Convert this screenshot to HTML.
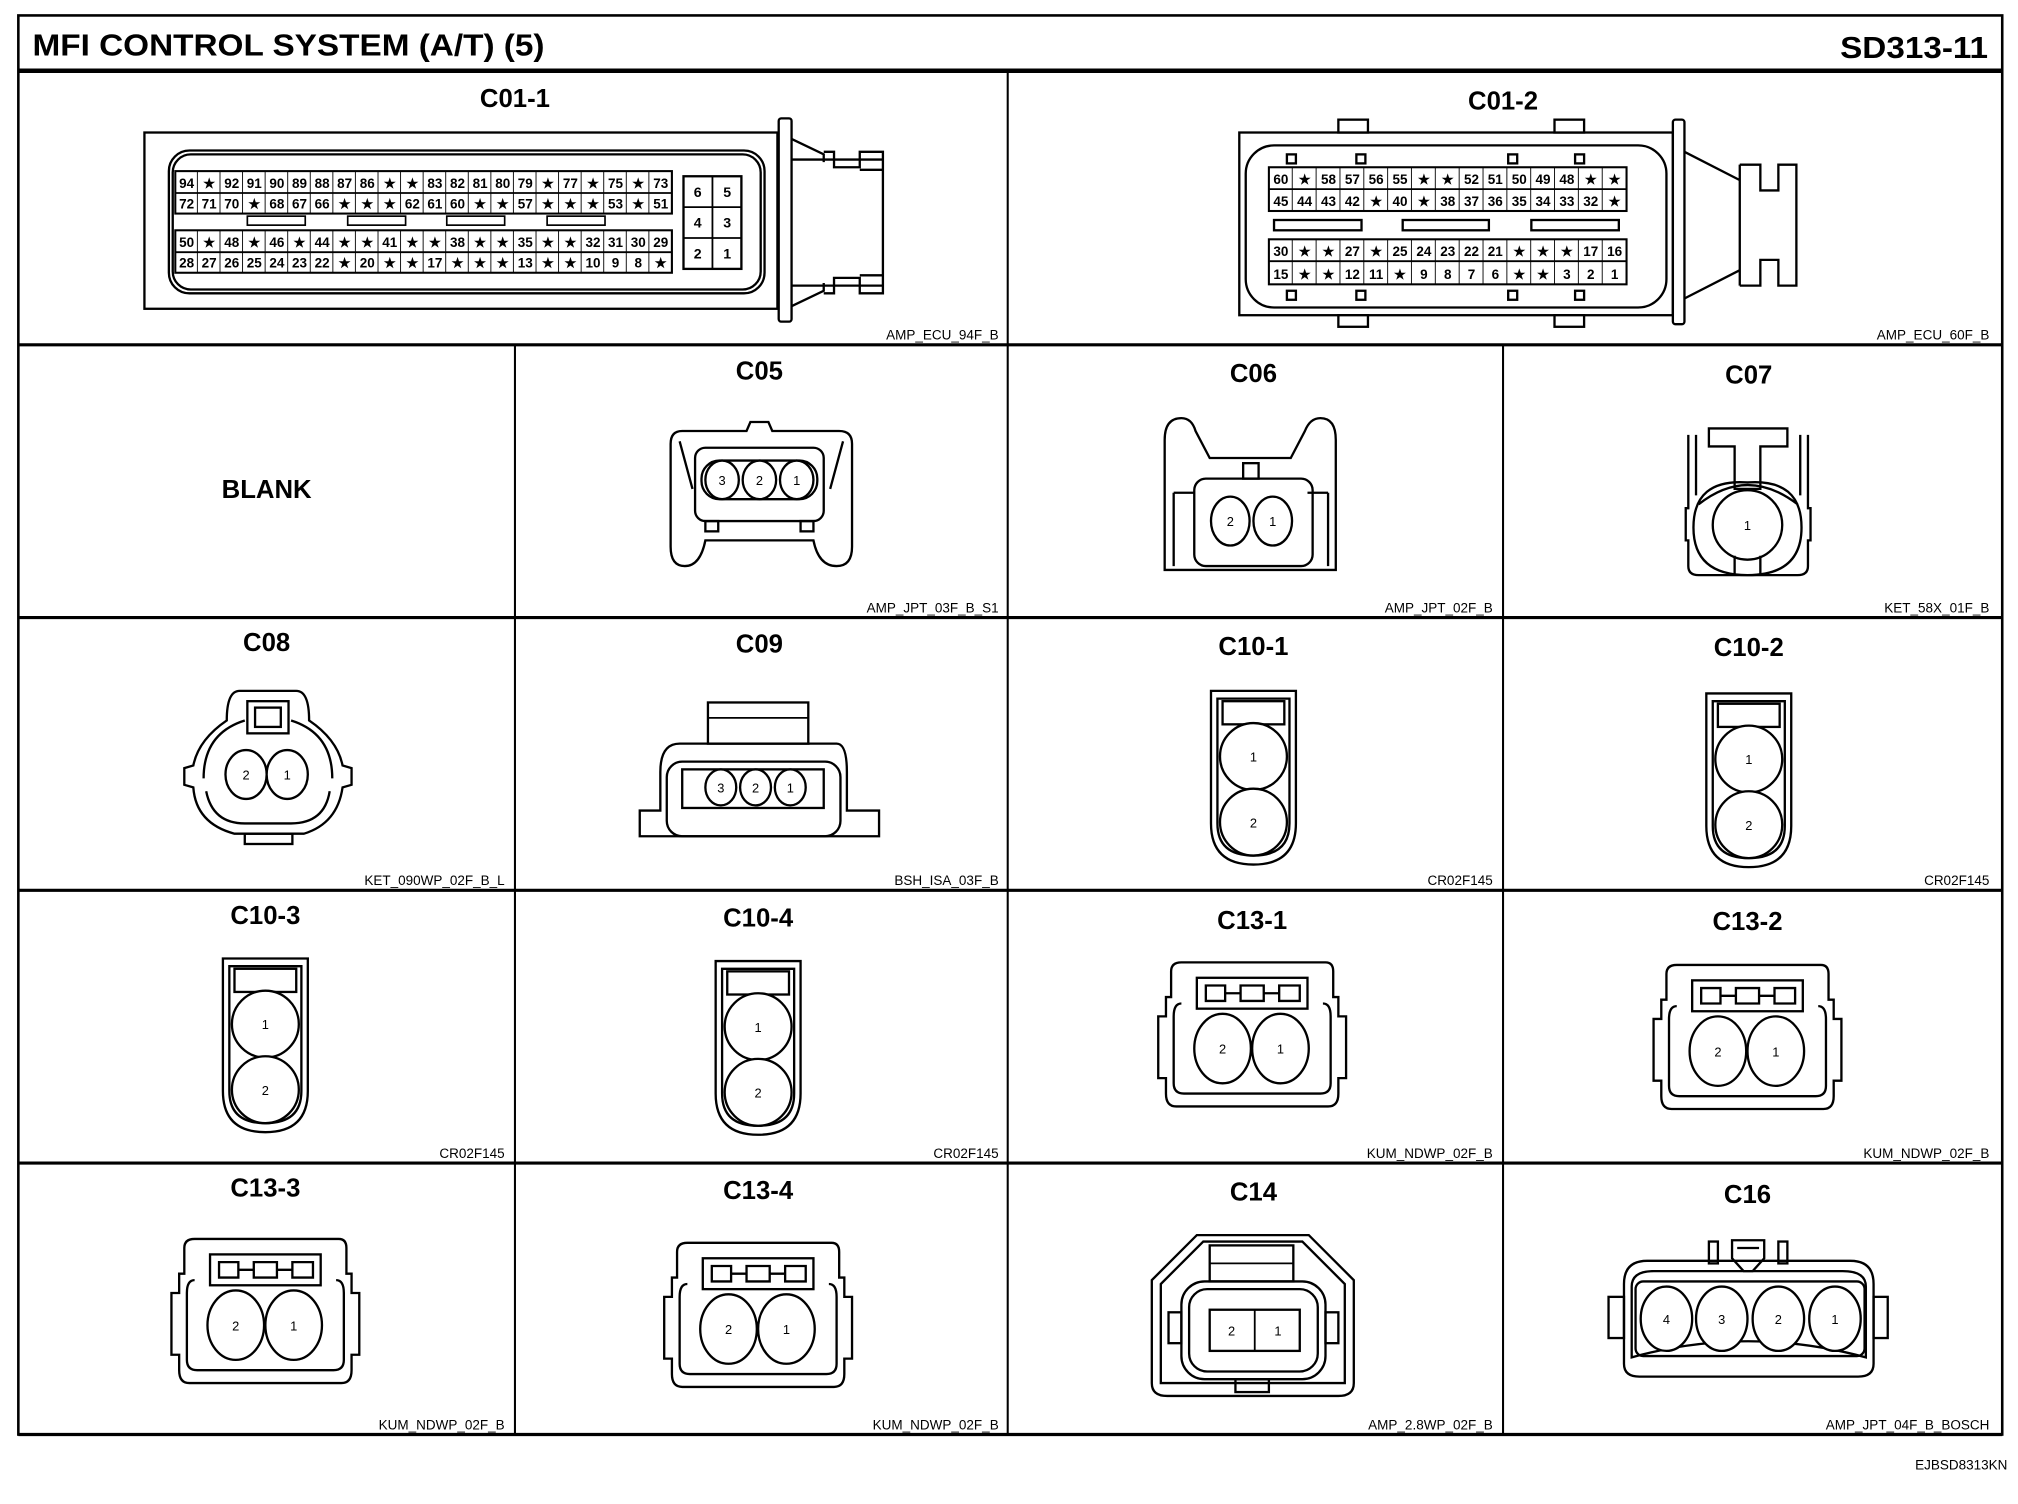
<!DOCTYPE html>
<html><head><meta charset="utf-8"><style>
html,body{margin:0;padding:0;background:#fff}
svg{display:block}
text{font-family:"Liberation Sans",sans-serif;fill:#000}
.t{font-weight:bold;font-size:24px}
.l{font-weight:bold;font-size:20px;text-anchor:middle}
.c{font-size:10.5px;text-anchor:end}
.p{font-weight:bold;font-size:10.5px;text-anchor:middle}
.q{font-weight:bold;font-size:11px;text-anchor:middle}
.n{font-size:10px;text-anchor:middle}
.s{fill:none;stroke:#000;stroke-width:1.8}
.w{fill:#fff;stroke:#000;stroke-width:1.8}
</style></head><body>
<svg width="2018" height="1504" viewBox="0 0 1568 1169" xmlns="http://www.w3.org/2000/svg">
<defs>
<pattern id="g1" x="136" y="0" width="17.545" height="1169" patternUnits="userSpaceOnUse"><line x1="17.545" y1="0" x2="17.545" y2="1169" stroke="#000" stroke-width="1.4"/></pattern>
<pattern id="g2" x="986" y="0" width="18.533" height="1169" patternUnits="userSpaceOnUse"><line x1="18.533" y1="0" x2="18.533" y2="1169" stroke="#000" stroke-width="1.4"/></pattern>
</defs>
<rect x="0" y="0" width="1568" height="1169" fill="#fff"/>
<!-- frame -->
<rect x="14" y="12" width="1542" height="1103" fill="none" stroke="#000" stroke-width="2"/>
<line x1="14" y1="55" x2="1556" y2="55" stroke="#000" stroke-width="3.5"/>
<g stroke="#000" stroke-width="2.5">
<line x1="14" y1="268" x2="1556" y2="268"/>
<line x1="14" y1="480" x2="1556" y2="480"/>
<line x1="14" y1="692" x2="1556" y2="692"/>
<line x1="14" y1="904" x2="1556" y2="904"/>
<line x1="14" y1="1115" x2="1556" y2="1115"/>
</g>
<g stroke="#000" stroke-width="1.6">
<line x1="783" y1="55" x2="783" y2="1115"/>
<line x1="400" y1="268" x2="400" y2="1115"/>
<line x1="1168" y1="268" x2="1168" y2="1115"/>
</g>
<text class="t" x="25" y="43" textLength="398" lengthAdjust="spacingAndGlyphs">MFI CONTROL SYSTEM (A/T) (5)</text>
<text class="t" x="1430" y="45" textLength="115" lengthAdjust="spacingAndGlyphs">SD313-11</text>

<!-- labels -->
<text class="l" x="400" y="83">C01-1</text>
<text class="l" x="1168" y="85">C01-2</text>
<text class="l" x="207" y="387">BLANK</text>
<text class="l" x="590" y="295">C05</text>
<text class="l" x="974" y="297">C06</text>
<text class="l" x="1359" y="298">C07</text>
<text class="l" x="207" y="506">C08</text>
<text class="l" x="590" y="507">C09</text>
<text class="l" x="974" y="509">C10-1</text>
<text class="l" x="1359" y="510">C10-2</text>
<text class="l" x="206" y="718">C10-3</text>
<text class="l" x="589" y="720">C10-4</text>
<text class="l" x="973" y="722">C13-1</text>
<text class="l" x="1358" y="723">C13-2</text>
<text class="l" x="206" y="930">C13-3</text>
<text class="l" x="589" y="932">C13-4</text>
<text class="l" x="974" y="933">C14</text>
<text class="l" x="1358" y="935">C16</text>

<text class="c" x="776" y="264">AMP_ECU_94F_B</text>
<text class="c" x="1546" y="264">AMP_ECU_60F_B</text>
<text class="c" x="776" y="476">AMP_JPT_03F_B_S1</text>
<text class="c" x="1160" y="476">AMP_JPT_02F_B</text>
<text class="c" x="1546" y="476">KET_58X_01F_B</text>
<text class="c" x="392" y="688">KET_090WP_02F_B_L</text>
<text class="c" x="776" y="688">BSH_ISA_03F_B</text>
<text class="c" x="1160" y="688">CR02F145</text>
<text class="c" x="1546" y="688">CR02F145</text>
<text class="c" x="392" y="900">CR02F145</text>
<text class="c" x="776" y="900">CR02F145</text>
<text class="c" x="1160" y="900">KUM_NDWP_02F_B</text>
<text class="c" x="1546" y="900">KUM_NDWP_02F_B</text>
<text class="c" x="392" y="1111">KUM_NDWP_02F_B</text>
<text class="c" x="776" y="1111">KUM_NDWP_02F_B</text>
<text class="c" x="1160" y="1111">AMP_2.8WP_02F_B</text>
<text class="c" x="1546" y="1111">AMP_JPT_04F_B_BOSCH</text>
<text class="c" x="1560" y="1142">EJBSD8313KN</text>

<!-- C01-1 -->
<rect class="s" x="112" y="103" width="492" height="137"/>
<rect class="s" x="131" y="117" width="463" height="111" rx="16"/>
<rect class="s" x="134" y="120" width="457" height="105" rx="14"/>
<rect x="136" y="133" width="386" height="33" fill="url(#g1)" stroke="#000" stroke-width="1.6"/>
<line x1="136" y1="150" x2="522" y2="150" stroke="#000" stroke-width="1.4"/>
<rect x="136" y="179" width="386" height="33" fill="url(#g1)" stroke="#000" stroke-width="1.6"/>
<line x1="136" y1="196" x2="522" y2="196" stroke="#000" stroke-width="1.4"/>
<g fill="none" stroke="#000" stroke-width="1.3">
<rect x="192" y="168" width="45" height="7"/><rect x="270" y="168" width="45" height="7"/><rect x="347" y="168" width="45" height="7"/><rect x="425" y="168" width="45" height="7"/>
</g>
<rect class="s" x="531" y="137" width="45" height="72"/>
<line x1="553.5" y1="137" x2="553.5" y2="209" stroke="#000" stroke-width="1.4"/>
<line x1="531" y1="161" x2="576" y2="161" stroke="#000" stroke-width="1.4"/>
<line x1="531" y1="185" x2="576" y2="185" stroke="#000" stroke-width="1.4"/>
<text class="q" x="542" y="153">6</text><text class="q" x="565" y="153">5</text>
<text class="q" x="542" y="177">4</text><text class="q" x="565" y="177">3</text>
<text class="q" x="542" y="201">2</text><text class="q" x="565" y="201">1</text>
<g class="p">
<text x="144.8" y="146">94</text><text x="162.3" y="146">★</text><text x="179.9" y="146">92</text><text x="197.4" y="146">91</text><text x="215.0" y="146">90</text><text x="232.5" y="146">89</text><text x="250.1" y="146">88</text><text x="267.6" y="146">87</text><text x="285.2" y="146">86</text><text x="302.7" y="146">★</text><text x="320.3" y="146">★</text><text x="337.8" y="146">83</text><text x="355.4" y="146">82</text><text x="372.9" y="146">81</text><text x="390.5" y="146">80</text><text x="408.0" y="146">79</text><text x="425.6" y="146">★</text><text x="443.1" y="146">77</text><text x="460.7" y="146">★</text><text x="478.2" y="146">75</text><text x="495.8" y="146">★</text><text x="513.3" y="146">73</text>
<text x="144.8" y="162">72</text><text x="162.3" y="162">71</text><text x="179.9" y="162">70</text><text x="197.4" y="162">★</text><text x="215.0" y="162">68</text><text x="232.5" y="162">67</text><text x="250.1" y="162">66</text><text x="267.6" y="162">★</text><text x="285.2" y="162">★</text><text x="302.7" y="162">★</text><text x="320.3" y="162">62</text><text x="337.8" y="162">61</text><text x="355.4" y="162">60</text><text x="372.9" y="162">★</text><text x="390.5" y="162">★</text><text x="408.0" y="162">57</text><text x="425.6" y="162">★</text><text x="443.1" y="162">★</text><text x="460.7" y="162">★</text><text x="478.2" y="162">53</text><text x="495.8" y="162">★</text><text x="513.3" y="162">51</text>
<text x="144.8" y="192">50</text><text x="162.3" y="192">★</text><text x="179.9" y="192">48</text><text x="197.4" y="192">★</text><text x="215.0" y="192">46</text><text x="232.5" y="192">★</text><text x="250.1" y="192">44</text><text x="267.6" y="192">★</text><text x="285.2" y="192">★</text><text x="302.7" y="192">41</text><text x="320.3" y="192">★</text><text x="337.8" y="192">★</text><text x="355.4" y="192">38</text><text x="372.9" y="192">★</text><text x="390.5" y="192">★</text><text x="408.0" y="192">35</text><text x="425.6" y="192">★</text><text x="443.1" y="192">★</text><text x="460.7" y="192">32</text><text x="478.2" y="192">31</text><text x="495.8" y="192">30</text><text x="513.3" y="192">29</text>
<text x="144.8" y="208">28</text><text x="162.3" y="208">27</text><text x="179.9" y="208">26</text><text x="197.4" y="208">25</text><text x="215.0" y="208">24</text><text x="232.5" y="208">23</text><text x="250.1" y="208">22</text><text x="267.6" y="208">★</text><text x="285.2" y="208">20</text><text x="302.7" y="208">★</text><text x="320.3" y="208">★</text><text x="337.8" y="208">17</text><text x="355.4" y="208">★</text><text x="372.9" y="208">★</text><text x="390.5" y="208">★</text><text x="408.0" y="208">13</text><text x="425.6" y="208">★</text><text x="443.1" y="208">★</text><text x="460.7" y="208">10</text><text x="478.2" y="208">9</text><text x="495.8" y="208">8</text><text x="513.3" y="208">★</text>
</g>
<rect class="w" x="605" y="92" width="10" height="158" rx="2"/>
<path class="s" d="M615,108 L640,120 L640,126 M615,124 L686,124 M615,222 L686,222 M615,238 L640,226 L640,220 M640,118 H648 V130 H668 V118 H686 V132 H668 M640,228 H648 V216 H668 V228 H686 V214 H668 M686,132 V214"/>

<!-- C01-2 -->
<rect class="s" x="963" y="103" width="337" height="142"/>
<rect class="s" x="968" y="113" width="327" height="126" rx="22"/>
<g class="w"><rect x="1040" y="93" width="23" height="10"/><rect x="1208" y="93" width="23" height="10"/><rect x="1040" y="245" width="23" height="9"/><rect x="1208" y="245" width="23" height="9"/>
<rect x="1000" y="120" width="7" height="7"/><rect x="1054" y="120" width="7" height="7"/><rect x="1172" y="120" width="7" height="7"/><rect x="1224" y="120" width="7" height="7"/>
<rect x="1000" y="226" width="7" height="7"/><rect x="1054" y="226" width="7" height="7"/><rect x="1172" y="226" width="7" height="7"/><rect x="1224" y="226" width="7" height="7"/></g>
<rect x="986" y="130" width="278" height="34" fill="url(#g2)" stroke="#000" stroke-width="1.6"/>
<line x1="986" y1="147" x2="1264" y2="147" stroke="#000" stroke-width="1.4"/>
<rect x="986" y="186" width="278" height="35" fill="url(#g2)" stroke="#000" stroke-width="1.6"/>
<line x1="986" y1="203" x2="1264" y2="203" stroke="#000" stroke-width="1.4"/>
<g class="s"><rect x="990" y="171" width="68" height="8"/><rect x="1090" y="171" width="67" height="8"/><rect x="1190" y="171" width="68" height="8"/></g>
<g class="p">
<text x="995.3" y="143">60</text><text x="1013.8" y="143">★</text><text x="1032.3" y="143">58</text><text x="1050.9" y="143">57</text><text x="1069.4" y="143">56</text><text x="1087.9" y="143">55</text><text x="1106.5" y="143">★</text><text x="1125.0" y="143">★</text><text x="1143.5" y="143">52</text><text x="1162.0" y="143">51</text><text x="1180.6" y="143">50</text><text x="1199.1" y="143">49</text><text x="1217.6" y="143">48</text><text x="1236.2" y="143">★</text><text x="1254.7" y="143">★</text>
<text x="995.3" y="160">45</text><text x="1013.8" y="160">44</text><text x="1032.3" y="160">43</text><text x="1050.9" y="160">42</text><text x="1069.4" y="160">★</text><text x="1087.9" y="160">40</text><text x="1106.5" y="160">★</text><text x="1125.0" y="160">38</text><text x="1143.5" y="160">37</text><text x="1162.0" y="160">36</text><text x="1180.6" y="160">35</text><text x="1199.1" y="160">34</text><text x="1217.6" y="160">33</text><text x="1236.2" y="160">32</text><text x="1254.7" y="160">★</text>
<text x="995.3" y="199">30</text><text x="1013.8" y="199">★</text><text x="1032.3" y="199">★</text><text x="1050.9" y="199">27</text><text x="1069.4" y="199">★</text><text x="1087.9" y="199">25</text><text x="1106.5" y="199">24</text><text x="1125.0" y="199">23</text><text x="1143.5" y="199">22</text><text x="1162.0" y="199">21</text><text x="1180.6" y="199">★</text><text x="1199.1" y="199">★</text><text x="1217.6" y="199">★</text><text x="1236.2" y="199">17</text><text x="1254.7" y="199">16</text>
<text x="995.3" y="217">15</text><text x="1013.8" y="217">★</text><text x="1032.3" y="217">★</text><text x="1050.9" y="217">12</text><text x="1069.4" y="217">11</text><text x="1087.9" y="217">★</text><text x="1106.5" y="217">9</text><text x="1125.0" y="217">8</text><text x="1143.5" y="217">7</text><text x="1162.0" y="217">6</text><text x="1180.6" y="217">★</text><text x="1199.1" y="217">★</text><text x="1217.6" y="217">3</text><text x="1236.2" y="217">2</text><text x="1254.7" y="217">1</text>
</g>
<rect class="w" x="1300" y="93" width="9" height="159" rx="2"/>
<path class="s" d="M1309,118 L1352,140 M1309,232 L1352,210 M1352,128 V222 M1352,128 H1368 V148 H1382 V128 H1396 V222 H1382 V202 H1368 V222 H1352"/>

<!-- C05 -->
<path class="s" d="M521,345 Q521,335 530,335 L580,335 L583,328 L597,328 L600,335 L652,335 Q662,335 662,345 L662,425 Q662,440 650,440 Q636,440 632,420 L548,420 Q544,440 532,440 Q521,440 521,425 Z"/>
<path class="s" d="M528,343 L538,380 M655,343 L645,380"/>
<rect class="s" x="540" y="348" width="100" height="57" rx="8"/>
<rect class="s" x="548" y="405" width="10" height="8"/><rect class="s" x="622" y="405" width="10" height="8"/>
<rect class="s" x="545" y="358" width="90" height="30" rx="14"/>
<ellipse class="w" cx="561" cy="373" rx="13" ry="15"/><ellipse class="w" cx="590" cy="373" rx="13" ry="15"/><ellipse class="w" cx="619" cy="373" rx="13" ry="15"/>
<text class="n" x="561" y="377">3</text><text class="n" x="590" y="377">2</text><text class="n" x="619" y="377">1</text>

<!-- C06 -->
<path class="s" d="M905,342 Q905,325 918,325 Q926,325 929,335 L940,356 L1003,356 L1014,335 Q1018,325 1026,325 Q1038,325 1038,342 L1038,443 L905,443 Z"/>
<path class="s" d="M912,383 L912,440 M1032,383 L1032,440 M912,383 H928 M1016,383 H1032"/>
<rect class="s" x="966" y="360" width="12" height="12"/>
<rect class="s" x="928" y="372" width="92" height="68" rx="9"/>
<ellipse class="w" cx="956" cy="405" rx="15" ry="19"/><ellipse class="w" cx="989" cy="405" rx="15" ry="19"/>
<text class="n" x="956" y="409">2</text><text class="n" x="989" y="409">1</text>

<!-- C07 -->
<path class="s" d="M1312,338 L1312,395 L1310,395 L1310,420 L1312,420 L1312,440 Q1312,447 1320,447 L1397,447 Q1405,447 1405,440 L1405,420 L1407,420 L1407,395 L1405,395 L1405,338"/>
<path class="s" d="M1318,338 V385 M1399,338 V385 M1320,392 Q1358,362 1397,392 M1316,410 Q1316,372 1358,375 Q1400,372 1400,410 Q1400,447 1358,447 Q1316,447 1316,410"/>
<path class="s" d="M1328,333 H1389 V347 H1368 V380 H1348 V347 H1328 Z"/>
<circle class="w" cx="1358" cy="408" r="27"/>
<path class="s" d="M1348,432 V446 M1368,432 V446"/>
<text class="n" x="1358" y="412">1</text>

<!-- C08 -->
<path class="s" d="M186,537 L230,537 Q240,537 240,560 Q262,575 266,595 L273,597 L273,610 L266,612 Q262,640 236,648 L182,648 Q152,640 150,612 L143,610 L143,597 L150,595 Q154,575 176,560 Q176,537 186,537 Z"/>
<path class="s" d="M158,605 Q158,570 190,560 M258,605 Q258,570 226,560 M160,615 Q165,640 190,640 L226,640 Q252,640 256,615"/>
<rect class="s" x="192" y="545" width="32" height="25"/>
<rect class="s" x="198" y="550" width="20" height="15"/>
<rect class="s" x="190" y="648" width="37" height="8"/>
<ellipse class="w" cx="191" cy="602" rx="16" ry="19"/><ellipse class="w" cx="223" cy="602" rx="16" ry="19"/>
<text class="n" x="191" y="606">2</text><text class="n" x="223" y="606">1</text>

<!-- C09 -->
<rect class="s" x="550" y="546" width="78" height="32"/>
<line x1="550" y1="558" x2="628" y2="558" stroke="#000" stroke-width="1.4"/>
<path class="s" d="M528,578 H650 Q658,578 658,600 L658,630 L683,630 L683,650 L497,650 L497,630 L513,630 L513,600 Q513,578 528,578 Z"/>
<rect class="s" x="518" y="592" width="135" height="58" rx="12"/>
<rect class="s" x="530" y="598" width="110" height="30"/>
<ellipse class="w" cx="560" cy="612" rx="12" ry="14"/><ellipse class="w" cx="587" cy="612" rx="12" ry="14"/><ellipse class="w" cx="614" cy="612" rx="12" ry="14"/>
<text class="n" x="560" y="616">3</text><text class="n" x="587" y="616">2</text><text class="n" x="614" y="616">1</text>

<!-- C10 series -->
<g id="c10">
<path class="s" d="M941,537 H1007 V640 Q1007,672 974,672 Q941,672 941,640 Z"/>
<path class="s" d="M946,543 H1002 V640 Q1002,665 974,665 Q946,665 946,640 Z"/>
<rect class="s" x="950" y="545" width="48" height="18"/>
<circle class="w" cx="974" cy="588" r="26"/><circle class="w" cx="974" cy="639" r="26"/>
<text class="n" x="974" y="592">1</text><text class="n" x="974" y="643">2</text>
</g>
<use href="#c10" transform="translate(385,2)"/>
<use href="#c10" transform="translate(-768,208)"/>
<use href="#c10" transform="translate(-385,210)"/>

<!-- C13 series -->
<g id="c13">
<path class="s" d="M918,748 H1030 Q1036,748 1036,755 V775 H1040 V790 H1046 V838 H1040 V850 Q1040,860 1032,860 H914 Q906,860 906,850 V838 H900 V790 H906 V775 H910 V755 Q910,748 918,748 Z"/>
<path class="s" d="M918,780 Q912,780 912,790 V842 Q912,850 920,850 H1026 Q1034,850 1034,842 V790 Q1034,780 1028,780"/>
<rect class="s" x="930" y="760" width="86" height="24"/>
<path class="s" d="M937,766 H952 V778 H937 Z M964,766 H982 V778 H964 Z M994,766 H1010 V778 H994 Z M952,772 H964 M982,772 H994"/>
<ellipse class="w" cx="950" cy="815" rx="22" ry="27"/><ellipse class="w" cx="995" cy="815" rx="22" ry="27"/>
<text class="n" x="950" y="819">2</text><text class="n" x="995" y="819">1</text>
</g>
<use href="#c13" transform="translate(385,2)"/>
<use href="#c13" transform="translate(-767,215)"/>
<use href="#c13" transform="translate(-384,218)"/>

<!-- C14 -->
<path class="s" d="M930,960 H1017 L1052,995 V1075 Q1052,1085 1040,1085 H907 Q895,1085 895,1075 V995 Z"/>
<path class="s" d="M935,965 H1012 L1045,998 V1075 H902 V998 Z"/>
<rect class="s" x="940" y="968" width="65" height="28"/>
<line x1="940" y1="982" x2="1005" y2="982" stroke="#000" stroke-width="1.4"/>
<rect class="s" x="918" y="996" width="112" height="76" rx="18"/>
<rect class="s" x="924" y="1002" width="100" height="64" rx="14"/>
<rect class="s" x="908" y="1020" width="10" height="24"/><rect class="s" x="1030" y="1020" width="10" height="24"/>
<rect class="s" x="940" y="1018" width="70" height="32"/>
<line x1="975" y1="1018" x2="975" y2="1050" stroke="#000" stroke-width="1.4"/>
<text class="n" x="957" y="1038">2</text><text class="n" x="993" y="1038">1</text>
<rect class="s" x="960" y="1072" width="26" height="10"/>

<!-- C16 -->
<path class="s" d="M1280,980 H1438 Q1456,980 1456,998 V1060 Q1456,1070 1444,1070 H1274 Q1262,1070 1262,1060 V998 Q1262,980 1280,980 Z"/>
<path class="s" d="M1268,1000 Q1268,988 1285,988 H1432 Q1450,988 1450,1000 V1055 Q1358,1030 1268,1055 Z"/>
<rect class="s" x="1250" y="1008" width="12" height="32"/><rect class="s" x="1456" y="1008" width="11" height="32"/>
<rect class="s" x="1328" y="965" width="7" height="17"/><rect class="s" x="1382" y="965" width="7" height="17"/>
<path class="s" d="M1346,964 H1371 V978 L1362,988 H1355 L1346,978 Z M1350,970 L1367,970"/>
<rect class="s" x="1271" y="996" width="178" height="58" rx="6"/>
<ellipse class="w" cx="1295" cy="1025" rx="20" ry="25"/><ellipse class="w" cx="1338" cy="1025" rx="20" ry="25"/><ellipse class="w" cx="1382" cy="1025" rx="20" ry="25"/><ellipse class="w" cx="1426" cy="1025" rx="20" ry="25"/>
<text class="n" x="1295" y="1029">4</text><text class="n" x="1338" y="1029">3</text><text class="n" x="1382" y="1029">2</text><text class="n" x="1426" y="1029">1</text>
</svg>
</body></html>
